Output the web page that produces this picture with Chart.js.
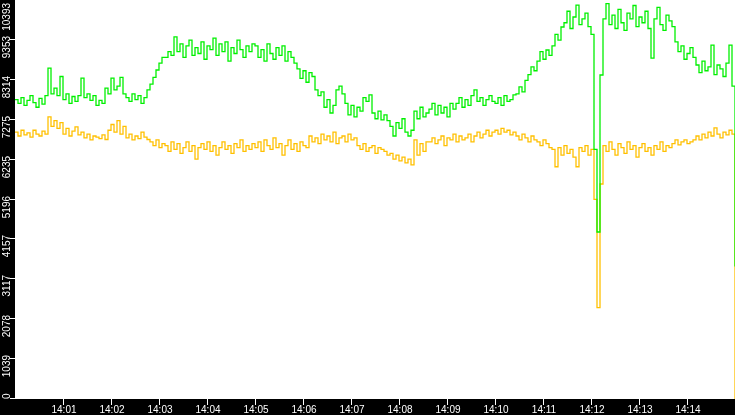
<!DOCTYPE html>
<html>
<head>
<meta charset="utf-8">
<script src="https://cdn.jsdelivr.net/npm/chart.js@4/dist/chart.umd.min.js"></script>
<style>
  html, body { margin: 0; padding: 0; background: #000; }
  canvas { display: block; }
</style>
</head>
<body>
<canvas id="c" width="735" height="415"></canvas>
<script>
// one sample every 3.75 s, starting 14:00:00
const sampleStep = 3.75;

// green series
const greenValues = [
  7800, 7700, 7850, 7650, 7780, 7900, 7720, 7600, 7830, 7680, 7900,
  8620,
  7950, 8100, 7900, 8400,
  7800, 7950, 7700, 7880, 7750, 7900,
  8360,
  7850, 7950, 7780, 7900,
  7650, 7780, 7700,
  8100, 7950, 8360, 8050, 8150, 8380, 7950,
  7850, 7750, 7950, 7800, 7900, 7700, 7850,
  8050, 8200, 8380,
  8570, 8750, 8900,
  8900, 9050, 8950, 9430,
  9050, 9250, 8900, 9200, 9350, 8950, 9150, 9000, 9300, 8850, 9200, 9100, 9400,
  8950, 9250, 9050, 9300, 8800, 9150, 9000, 9350, 9100, 8900, 9200, 9050, 9250,
  9200, 8900, 9100, 8800, 9250, 9000, 8850, 9150, 8950, 9200, 8800, 9050, 8900, 8750,
  8600, 8350, 8550, 8250, 8500, 8400,
  8050, 7900, 8000,
  7600, 7800, 7450, 7650,
  8050, 8150, 7950,
  7700, 7400, 7650, 7350, 7600, 7500,
  7850, 7750, 7920,
  7450, 7300, 7500, 7270, 7400,
  7250, 7100, 6850, 7200, 7050, 7300, 6950, 6850, 7000,
  7500, 7300, 7600, 7350, 7450,
  7550, 7700, 7400, 7650, 7450, 7600, 7350, 7700, 7550,
  7700, 7850, 7600, 7800, 7650, 7900, 8050, 7750, 7850, 7650, 7800, 7900, 7750,
  7700, 7850, 7650, 7900, 7750, 7800, 7920,
  7950, 8130, 8000,
  8300, 8450, 8650, 8550,
  8800, 9050, 8850, 9090, 8950,
  9200, 9500, 9350, 9690,
  9800, 10100, 9650, 9950, 10260, 9750, 9900, 10050, 9700,
  9500,
  6500, 4350, 8440,
  9900, 10300, 9750, 10000, 9650, 10150, 9800, 9600, 10050, 9900, 10250, 9700,
  9950, 9800, 10100, 9650, 8880, 9900, 10200, 9750, 9600, 10000, 9850, 9700,
  9300, 9050, 9200, 8850, 9000, 9150, 8900,
  8700, 8500, 8800, 8550, 8650, 9220, 8450, 8700, 8600, 8400, 8750, 9220,
  8150,
  3450
];

// yellow series
const yellowValues = [
  6950, 6850, 7000, 6880, 6930, 6820, 7000, 6900, 6850, 6980, 6900,
  7350,
  7100, 7250, 7050, 7200,
  6900, 7050, 6850, 6980, 7090, 6880, 6950,
  6800, 6900, 6750, 6850, 6820, 6780, 6880, 6760,
  7000, 7150, 6950, 7250, 6900, 7100,
  6800, 6900, 6750, 6850, 6780, 6950, 6820, 6760,
  6700, 6600, 6750, 6550, 6650,
  6600, 6450, 6700, 6500, 6650, 6400, 6550, 6700, 6450, 6600, 6250, 6550, 6650, 6500, 6700,
  6450, 6600, 6350, 6550, 6700, 6500, 6600, 6400, 6650, 6550, 6750, 6450, 6600, 6500, 6650,
  6550, 6700, 6450, 6750, 6600, 6500, 6800, 6550, 6650, 6350, 6600, 6750, 6500, 6650, 6450, 6700, 6600, 6550,
  6850, 6700, 6800, 6650, 6900, 6750, 6850, 6700, 6950, 6650, 6800, 6850, 6700, 6900, 6750, 6800,
  6600, 6500, 6650, 6450, 6550, 6600, 6400, 6550, 6500, 6450, 6350,
  6400, 6250, 6350, 6200, 6300, 6150, 6250, 6100,
  6750, 6350, 6650, 6450, 6700,
  6700, 6800, 6650, 6750, 6850, 6600, 6800, 6750, 6900, 6700, 6850,
  6750, 6800, 6900, 6700, 6850, 6950, 6800, 6900, 7000, 6850, 6950,
  7000, 6900, 7050, 6950, 7000, 6880, 6950,
  6850, 6750, 6900, 6800, 6700, 6850, 6750,
  6700, 6600, 6750, 6650, 6550,
  6500, 6050, 6550, 6350, 6600, 6400, 6500, 6300, 6050, 6550, 6450, 6600, 6350, 6500,
  5200, 2380, 5600,
  6600, 6450, 6700, 6500, 6350, 6650, 6550, 6400, 6700, 6500, 6600, 6300,
  6550, 6650, 6450, 6550, 6350, 6600, 6500, 6700, 6450, 6600, 6550,
  6650, 6750, 6620, 6700, 6750, 6650, 6700, 6750,
  6850, 6750, 6900, 6800, 6950, 6850, 7060, 6900, 6800, 6950, 6880, 7000, 6900,
  0
];

// axes
const yMax = 10393;
const yTickValues = [0, 1039, 2078, 3117, 4157, 5196, 6235, 7275, 8314, 9353, 10393];
const yTickLabels = ['0', '1039', '2078', '3117', '4157', '5196', '6235', '7275', '8314', '9353', '10393'];
const xTickSeconds = [60, 120, 180, 240, 300, 360, 420, 480, 540, 600, 660, 720, 780, 840];
const xTickLabels = ['14:01', '14:02', '14:03', '14:04', '14:05', '14:06', '14:07', '14:08',
                     '14:09', '14:10', '14:11', '14:12', '14:13', '14:14'];

function toPoints(values) {
  return values.map((v, i) => ({ x: i * sampleStep, y: v }));
}

// black frame + white plot area, ticks drawn by hand
const framePlugin = {
  id: 'frame',
  beforeDraw(chart) {
    const { ctx, chartArea: a } = chart;
    ctx.save();
    ctx.fillStyle = '#000';
    ctx.fillRect(0, 0, chart.width, chart.height);
    ctx.fillStyle = '#fff';
    ctx.fillRect(a.left, a.top, a.right - a.left, a.bottom - a.top);
    ctx.restore();
  },
  afterDraw(chart) {
    const { ctx, chartArea: a } = chart;
    const xs = chart.scales.x, ys = chart.scales.y;
    ctx.save();
    ctx.fillStyle = '#fff';
    ctx.strokeStyle = '#fff';
    ctx.lineWidth = 1;
    ctx.font = '10px "Liberation Sans", Arial, sans-serif';

    // y ticks
    yTickValues.forEach((v, k) => {
      const py = Math.round(ys.getPixelForValue(v));
      ctx.beginPath();
      ctx.moveTo(a.left - 5, py - 0.5);
      ctx.lineTo(a.left, py - 0.5);
      ctx.stroke();
      const label = yTickLabels[k];
      const w = ctx.measureText(label).width;
      let top = py - 4;
      if (top < 3) top = 3;
      if (top + w > a.bottom) top = a.bottom - w;
      ctx.save();
      ctx.translate(10, top);
      ctx.rotate(-Math.PI / 2);
      ctx.textAlign = 'right';
      ctx.textBaseline = 'alphabetic';
      ctx.fillText(label, 0, 0);
      ctx.restore();
    });

    // x ticks
    ctx.textAlign = 'center';
    ctx.textBaseline = 'alphabetic';
    xTickSeconds.forEach((s, k) => {
      const px = Math.round(xs.getPixelForValue(s));
      ctx.beginPath();
      ctx.moveTo(px + 0.5, a.bottom);
      ctx.lineTo(px + 0.5, a.bottom + 6);
      ctx.stroke();
      ctx.fillText(xTickLabels[k], px + 1, a.bottom + 14);
    });
    ctx.restore();
  }
};

new Chart(document.getElementById('c'), {
  type: 'line',
  data: {
    datasets: [
      {
        label: 'green',
        data: toPoints(greenValues),
        borderColor: '#00f000',
        borderWidth: 1.3,
        pointRadius: 0,
        stepped: true,
        fill: false
      },
      {
        label: 'yellow',
        data: toPoints(yellowValues),
        borderColor: '#ffc000',
        borderWidth: 1.3,
        pointRadius: 0,
        stepped: true,
        fill: false
      }
    ]
  },
  options: {
    responsive: false,
    animation: false,
    devicePixelRatio: 1,
    layout: { padding: 0, autoPadding: false },
    plugins: { legend: { display: false }, tooltip: { enabled: false } },
    scales: {
      x: {
        type: 'linear',
        min: 0,
        max: 900,
        ticks: { display: false },
        grid: { display: false },
        border: { display: false },
        afterFit: s => { s.height = 16; }
      },
      y: {
        min: 0,
        max: yMax,
        ticks: { display: false },
        grid: { display: false },
        border: { display: false },
        afterFit: s => { s.width = 15; }
      }
    }
  },
  plugins: [framePlugin]
});
</script>
</body>
</html>
